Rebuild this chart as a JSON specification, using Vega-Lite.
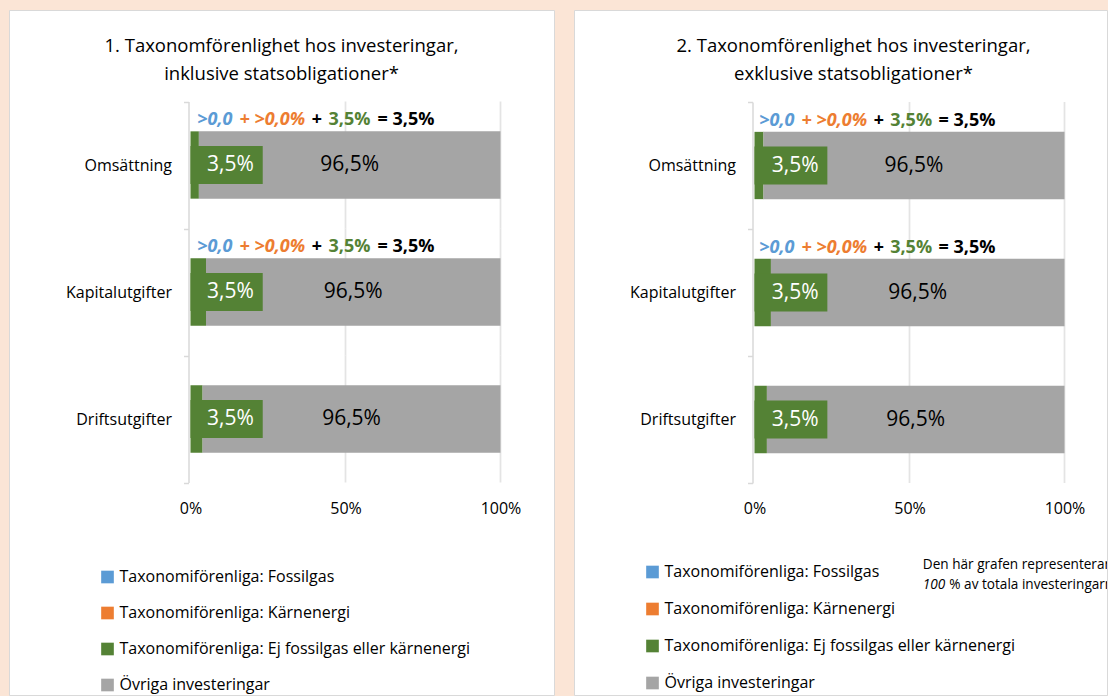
{
  "$schema": "https://vega.github.io/schema/vega-lite/v6.json",
  "background": "#FBE5D6",
  "padding": {"left": 8, "top": 1, "right": 0, "bottom": 0},
  "spacing": 18,
  "config": {"font": "Open Sans"},
  "resolve": {"scale": {"x": "independent", "y": "independent", "color": "independent"}, "legend": {"color": "independent"}},
  "datasets": {
    "bars": [
      {"panel": 1, "cat": "Omsättning", "series": "Taxonomiförenliga: Fossilgas", "rank": 1, "value": 0, "label": ""},
      {"panel": 1, "cat": "Omsättning", "series": "Taxonomiförenliga: Kärnenergi", "rank": 2, "value": 0, "label": ""},
      {"panel": 1, "cat": "Omsättning", "series": "Taxonomiförenliga: Ej fossilgas eller kärnenergi", "rank": 3, "value": 2.7, "label": "3,5%"},
      {"panel": 1, "cat": "Omsättning", "series": "Övriga investeringar", "rank": 4, "value": 97.3, "label": "96,5%"},
      {"panel": 1, "cat": "Kapitalutgifter", "series": "Taxonomiförenliga: Fossilgas", "rank": 1, "value": 0, "label": ""},
      {"panel": 1, "cat": "Kapitalutgifter", "series": "Taxonomiförenliga: Kärnenergi", "rank": 2, "value": 0, "label": ""},
      {"panel": 1, "cat": "Kapitalutgifter", "series": "Taxonomiförenliga: Ej fossilgas eller kärnenergi", "rank": 3, "value": 5.0, "label": "3,5%"},
      {"panel": 1, "cat": "Kapitalutgifter", "series": "Övriga investeringar", "rank": 4, "value": 95.0, "label": "96,5%"},
      {"panel": 1, "cat": "Driftsutgifter", "series": "Taxonomiförenliga: Fossilgas", "rank": 1, "value": 0, "label": ""},
      {"panel": 1, "cat": "Driftsutgifter", "series": "Taxonomiförenliga: Kärnenergi", "rank": 2, "value": 0, "label": ""},
      {"panel": 1, "cat": "Driftsutgifter", "series": "Taxonomiförenliga: Ej fossilgas eller kärnenergi", "rank": 3, "value": 3.9, "label": "3,5%"},
      {"panel": 1, "cat": "Driftsutgifter", "series": "Övriga investeringar", "rank": 4, "value": 96.1, "label": "96,5%"},
      {"panel": 2, "cat": "Omsättning", "series": "Taxonomiförenliga: Fossilgas", "rank": 1, "value": 0, "label": ""},
      {"panel": 2, "cat": "Omsättning", "series": "Taxonomiförenliga: Kärnenergi", "rank": 2, "value": 0, "label": ""},
      {"panel": 2, "cat": "Omsättning", "series": "Taxonomiförenliga: Ej fossilgas eller kärnenergi", "rank": 3, "value": 2.9, "label": "3,5%"},
      {"panel": 2, "cat": "Omsättning", "series": "Övriga investeringar", "rank": 4, "value": 97.1, "label": "96,5%"},
      {"panel": 2, "cat": "Kapitalutgifter", "series": "Taxonomiförenliga: Fossilgas", "rank": 1, "value": 0, "label": ""},
      {"panel": 2, "cat": "Kapitalutgifter", "series": "Taxonomiförenliga: Kärnenergi", "rank": 2, "value": 0, "label": ""},
      {"panel": 2, "cat": "Kapitalutgifter", "series": "Taxonomiförenliga: Ej fossilgas eller kärnenergi", "rank": 3, "value": 5.3, "label": "3,5%"},
      {"panel": 2, "cat": "Kapitalutgifter", "series": "Övriga investeringar", "rank": 4, "value": 94.7, "label": "96,5%"},
      {"panel": 2, "cat": "Driftsutgifter", "series": "Taxonomiförenliga: Fossilgas", "rank": 1, "value": 0, "label": ""},
      {"panel": 2, "cat": "Driftsutgifter", "series": "Taxonomiförenliga: Kärnenergi", "rank": 2, "value": 0, "label": ""},
      {"panel": 2, "cat": "Driftsutgifter", "series": "Taxonomiförenliga: Ej fossilgas eller kärnenergi", "rank": 3, "value": 4.0, "label": "3,5%"},
      {"panel": 2, "cat": "Driftsutgifter", "series": "Övriga investeringar", "rank": 4, "value": 96.0, "label": "96,5%"}
    ],
    "grid": [
      {"cat": "Omsättning", "x": 50}, {"cat": "Omsättning", "x": 100},
      {"cat": "Kapitalutgifter", "x": 50}, {"cat": "Kapitalutgifter", "x": 100},
      {"cat": "Driftsutgifter", "x": 50}, {"cat": "Driftsutgifter", "x": 100}
    ],
    "notes": [
      {"panel": 1, "cat": "Omsättning", "fossil": ">0,0", "nuclear": "+ >0,0%", "plus": "+", "green": "3,5%", "total": "= 3,5%"},
      {"panel": 1, "cat": "Kapitalutgifter", "fossil": ">0,0", "nuclear": "+ >0,0%", "plus": "+", "green": "3,5%", "total": "= 3,5%"},
      {"panel": 2, "cat": "Omsättning", "fossil": ">0,0", "nuclear": "+ >0,0%", "plus": "+", "green": "3,5%", "total": "= 3,5%"},
      {"panel": 2, "cat": "Kapitalutgifter", "fossil": ">0,0", "nuclear": "+ >0,0%", "plus": "+", "green": "3,5%", "total": "= 3,5%"}
    ],
    "footnote": [
      {"line1": "Den här grafen representerar", "pct": "100", "rest": "% av totala investeringarna."}
    ]
  },
  "hconcat": [
    {
      "width": 545,
      "height": 685,
      "view": {"fill": "#FFFFFF", "stroke": "#D9D9D9", "strokeWidth": 1},
      "title": {"text": ["1. Taxonomförenlighet hos investeringar,", "inklusive statsobligationer*"], "fontSize": 18.5, "fontWeight": "normal", "font": "Open Sans", "color": "#000000", "lineHeight": 28, "anchor": "middle", "frame": "group", "baseline": "bottom", "offset": -100},
      "layer": [
        {
          "data": {"name": "grid"},
          "mark": {"type": "tick", "orient": "vertical", "size": 127, "thickness": 1.75, "color": "#D9D9D9"},
          "encoding": {"x": {"field": "x", "type": "quantitative"}, "y": {"field": "cat", "type": "nominal"}}
        },
        {
          "data": {"name": "bars"},
          "transform": [{"filter": "datum.panel === 1"}],
          "mark": {"type": "bar", "height": {"band": 0.53}},
          "encoding": {
            "x": {"field": "value", "type": "quantitative", "stack": "zero",
                  "scale": {"domain": [-58.548, 117.258], "nice": false, "zero": false},
                  "axis": {"title": null, "values": [0, 50, 100], "labelExpr": "datum.value + '%'", "grid": false, "domain": false, "ticks": false, "tickSize": 0, "labelPadding": 18, "labelFontSize": 16, "labelFont": "Open Sans", "labelColor": "#000000", "offset": -212.5, "labelFlush": false}},
            "y": {"field": "cat", "type": "nominal",
                  "scale": {"domain": ["Omsättning", "Kapitalutgifter", "Driftsutgifter"], "range": [91.5, 472.5], "paddingInner": 0, "paddingOuter": 0},
                  "axis": {"title": null, "offset": -179.5, "domainColor": "#D9D9D9", "domainWidth": 1.5, "tickColor": "#D9D9D9", "tickWidth": 1.5, "tickSize": 5, "tickBand": "extent", "labelPadding": 12, "labelFontSize": 16, "labelFont": "Open Sans", "labelColor": "#000000", "grid": false}},
            "color": {"field": "series", "type": "nominal",
                      "scale": {"domain": ["Taxonomiförenliga: Fossilgas", "Taxonomiförenliga: Kärnenergi", "Taxonomiförenliga: Ej fossilgas eller kärnenergi", "Övriga investeringar"], "range": ["#5B9BD5", "#ED7D31", "#548235", "#A5A5A5"]},
                      "legend": {"title": null, "orient": "none", "legendX": 90.5, "legendY": 559, "direction": "vertical", "symbolType": "square", "symbolSize": 160, "symbolStrokeWidth": 0, "labelFontSize": 16, "labelFont": "Open Sans", "labelColor": "#000000", "labelOffset": 4, "rowPadding": 20, "padding": 0, "labelLimit": 600}},
            "order": {"field": "rank", "type": "quantitative"}
          }
        },
        {
          "data": {"name": "bars"},
          "transform": [{"filter": "datum.panel === 1 && datum.rank === 3"}],
          "mark": {"type": "bar", "color": "#548235", "height": {"band": 0.3}},
          "encoding": {"x": {"datum": 0}, "x2": {"datum": 23.3}, "y": {"field": "cat", "type": "nominal"}}
        },
        {
          "data": {"name": "bars"},
          "transform": [{"filter": "datum.panel === 1 && datum.rank === 3"}],
          "mark": {"type": "text", "color": "#FFFFFF", "fontSize": 21, "font": "Open Sans", "align": "center", "baseline": "middle"},
          "encoding": {"x": {"datum": 12.9}, "y": {"field": "cat", "type": "nominal"}, "text": {"field": "label"}}
        },
        {
          "data": {"name": "bars"},
          "transform": [{"filter": "datum.panel === 1"}],
          "mark": {"type": "text", "color": "#000000", "fontSize": 21, "font": "Open Sans", "align": "center", "baseline": "middle"},
          "encoding": {
            "x": {"field": "value", "type": "quantitative", "stack": "zero", "bandPosition": 0.5},
            "y": {"field": "cat", "type": "nominal"},
            "detail": {"field": "series"},
            "order": {"field": "rank", "type": "quantitative"},
            "text": {"condition": {"test": "datum.rank === 4", "field": "label"}, "value": ""}
          }
        },
        {
          "data": {"name": "notes"},
          "transform": [{"filter": "datum.panel === 1"}],
          "mark": {"type": "text", "align": "left", "baseline": "middle", "dx": 6.7, "dy": -45, "fontSize": 18, "fontWeight": "bold", "fontStyle": "italic", "font": "Open Sans", "color": "#5B9BD5"},
          "encoding": {"x": {"datum": 0}, "y": {"field": "cat", "type": "nominal"}, "text": {"field": "fossil"}}
        },
        {
          "data": {"name": "notes"},
          "transform": [{"filter": "datum.panel === 1"}],
          "mark": {"type": "text", "align": "left", "baseline": "middle", "dx": 49, "dy": -45, "fontSize": 18, "fontWeight": "bold", "fontStyle": "italic", "font": "Open Sans", "color": "#ED7D31"},
          "encoding": {"x": {"datum": 0}, "y": {"field": "cat", "type": "nominal"}, "text": {"field": "nuclear"}}
        },
        {
          "data": {"name": "notes"},
          "transform": [{"filter": "datum.panel === 1"}],
          "mark": {"type": "text", "align": "left", "baseline": "middle", "dx": 121, "dy": -45, "fontSize": 18, "fontWeight": "bold", "fontStyle": "italic", "font": "Open Sans", "color": "#000000"},
          "encoding": {"x": {"datum": 0}, "y": {"field": "cat", "type": "nominal"}, "text": {"field": "plus"}}
        },
        {
          "data": {"name": "notes"},
          "transform": [{"filter": "datum.panel === 1"}],
          "mark": {"type": "text", "align": "left", "baseline": "middle", "dx": 138, "dy": -45, "fontSize": 18, "fontWeight": "bold", "font": "Open Sans", "color": "#548235"},
          "encoding": {"x": {"datum": 0}, "y": {"field": "cat", "type": "nominal"}, "text": {"field": "green"}}
        },
        {
          "data": {"name": "notes"},
          "transform": [{"filter": "datum.panel === 1"}],
          "mark": {"type": "text", "align": "left", "baseline": "middle", "dx": 187, "dy": -45, "fontSize": 18, "fontWeight": "bold", "font": "Open Sans", "color": "#000000"},
          "encoding": {"x": {"datum": 0}, "y": {"field": "cat", "type": "nominal"}, "text": {"field": "total"}}
        }
      ]
    },
    {
      "width": 533,
      "height": 685,
      "view": {"fill": "#FFFFFF", "stroke": "#D9D9D9", "strokeWidth": 1},
      "title": {"text": ["2. Taxonomförenlighet hos investeringar,", "exklusive statsobligationer*"], "fontSize": 18.5, "fontWeight": "normal", "font": "Open Sans", "color": "#000000", "lineHeight": 28, "anchor": "middle", "frame": "group", "baseline": "bottom", "offset": -100, "dx": 13},
      "layer": [
        {
          "data": {"name": "grid"},
          "mark": {"type": "tick", "orient": "vertical", "size": 127, "thickness": 1.75, "color": "#D9D9D9"},
          "encoding": {"x": {"field": "x", "type": "quantitative"}, "y": {"field": "cat", "type": "nominal"}}
        },
        {
          "data": {"name": "bars"},
          "transform": [{"filter": "datum.panel === 2"}],
          "mark": {"type": "bar", "height": {"band": 0.53}},
          "encoding": {
            "x": {"field": "value", "type": "quantitative", "stack": "zero",
                  "scale": {"domain": [-58.226, 113.71], "nice": false, "zero": false},
                  "axis": {"title": null, "values": [0, 50, 100], "labelExpr": "datum.value + '%'", "grid": false, "domain": false, "ticks": false, "tickSize": 0, "labelPadding": 18, "labelFontSize": 16, "labelFont": "Open Sans", "labelColor": "#000000", "offset": -212.5, "labelFlush": false}},
            "y": {"field": "cat", "type": "nominal",
                  "scale": {"domain": ["Omsättning", "Kapitalutgifter", "Driftsutgifter"], "range": [92, 473], "paddingInner": 0, "paddingOuter": 0},
                  "axis": {"title": null, "offset": -178.5, "domainColor": "#D9D9D9", "domainWidth": 1.5, "tickColor": "#D9D9D9", "tickWidth": 1.5, "tickSize": 5, "tickBand": "extent", "labelPadding": 12, "labelFontSize": 16, "labelFont": "Open Sans", "labelColor": "#000000", "grid": false}},
            "color": {"field": "series", "type": "nominal",
                      "scale": {"domain": ["Taxonomiförenliga: Fossilgas", "Taxonomiförenliga: Kärnenergi", "Taxonomiförenliga: Ej fossilgas eller kärnenergi", "Övriga investeringar"], "range": ["#5B9BD5", "#ED7D31", "#548235", "#A5A5A5"]},
                      "legend": {"title": null, "orient": "none", "legendX": 70.5, "legendY": 554, "direction": "vertical", "symbolType": "square", "symbolSize": 160, "symbolStrokeWidth": 0, "labelFontSize": 16, "labelFont": "Open Sans", "labelColor": "#000000", "labelOffset": 4, "rowPadding": 21, "padding": 0, "labelLimit": 600}},
            "order": {"field": "rank", "type": "quantitative"}
          }
        },
        {
          "data": {"name": "bars"},
          "transform": [{"filter": "datum.panel === 2 && datum.rank === 3"}],
          "mark": {"type": "bar", "color": "#548235", "height": {"band": 0.3}},
          "encoding": {"x": {"datum": 0}, "x2": {"datum": 23.5}, "y": {"field": "cat", "type": "nominal"}}
        },
        {
          "data": {"name": "bars"},
          "transform": [{"filter": "datum.panel === 2 && datum.rank === 3"}],
          "mark": {"type": "text", "color": "#FFFFFF", "fontSize": 21, "font": "Open Sans", "align": "center", "baseline": "middle"},
          "encoding": {"x": {"datum": 13.1}, "y": {"field": "cat", "type": "nominal"}, "text": {"field": "label"}}
        },
        {
          "data": {"name": "bars"},
          "transform": [{"filter": "datum.panel === 2"}],
          "mark": {"type": "text", "color": "#000000", "fontSize": 21, "font": "Open Sans", "align": "center", "baseline": "middle"},
          "encoding": {
            "x": {"field": "value", "type": "quantitative", "stack": "zero", "bandPosition": 0.5},
            "y": {"field": "cat", "type": "nominal"},
            "detail": {"field": "series"},
            "order": {"field": "rank", "type": "quantitative"},
            "text": {"condition": {"test": "datum.rank === 4", "field": "label"}, "value": ""}
          }
        },
        {
          "data": {"name": "notes"},
          "transform": [{"filter": "datum.panel === 2"}],
          "mark": {"type": "text", "align": "left", "baseline": "middle", "dx": 4.7, "dy": -45, "fontSize": 18, "fontWeight": "bold", "fontStyle": "italic", "font": "Open Sans", "color": "#5B9BD5"},
          "encoding": {"x": {"datum": 0}, "y": {"field": "cat", "type": "nominal"}, "text": {"field": "fossil"}}
        },
        {
          "data": {"name": "notes"},
          "transform": [{"filter": "datum.panel === 2"}],
          "mark": {"type": "text", "align": "left", "baseline": "middle", "dx": 47, "dy": -45, "fontSize": 18, "fontWeight": "bold", "fontStyle": "italic", "font": "Open Sans", "color": "#ED7D31"},
          "encoding": {"x": {"datum": 0}, "y": {"field": "cat", "type": "nominal"}, "text": {"field": "nuclear"}}
        },
        {
          "data": {"name": "notes"},
          "transform": [{"filter": "datum.panel === 2"}],
          "mark": {"type": "text", "align": "left", "baseline": "middle", "dx": 119, "dy": -45, "fontSize": 18, "fontWeight": "bold", "fontStyle": "italic", "font": "Open Sans", "color": "#000000"},
          "encoding": {"x": {"datum": 0}, "y": {"field": "cat", "type": "nominal"}, "text": {"field": "plus"}}
        },
        {
          "data": {"name": "notes"},
          "transform": [{"filter": "datum.panel === 2"}],
          "mark": {"type": "text", "align": "left", "baseline": "middle", "dx": 135.7, "dy": -45, "fontSize": 18, "fontWeight": "bold", "font": "Open Sans", "color": "#548235"},
          "encoding": {"x": {"datum": 0}, "y": {"field": "cat", "type": "nominal"}, "text": {"field": "green"}}
        },
        {
          "data": {"name": "notes"},
          "transform": [{"filter": "datum.panel === 2"}],
          "mark": {"type": "text", "align": "left", "baseline": "middle", "dx": 184, "dy": -45, "fontSize": 18, "fontWeight": "bold", "font": "Open Sans", "color": "#000000"},
          "encoding": {"x": {"datum": 0}, "y": {"field": "cat", "type": "nominal"}, "text": {"field": "total"}}
        },
        {
          "data": {"name": "footnote"},
          "mark": {"type": "text", "align": "left", "baseline": "middle", "dy": 145.5, "fontSize": 13.6, "font": "Open Sans", "color": "#000000", "clip": true},
          "encoding": {"x": {"datum": 54.3}, "y": {"datum": "Driftsutgifter", "type": "nominal"}, "text": {"field": "line1"}}
        },
        {
          "data": {"name": "footnote"},
          "mark": {"type": "text", "align": "left", "baseline": "middle", "dy": 165.5, "fontSize": 13.6, "fontStyle": "italic", "font": "Open Sans", "color": "#000000", "clip": true},
          "encoding": {"x": {"datum": 54.3}, "y": {"datum": "Driftsutgifter", "type": "nominal"}, "text": {"field": "pct"}}
        },
        {
          "data": {"name": "footnote"},
          "mark": {"type": "text", "align": "left", "baseline": "middle", "dx": 26.5, "dy": 165.5, "fontSize": 13.6, "font": "Open Sans", "color": "#000000", "clip": true},
          "encoding": {"x": {"datum": 54.3}, "y": {"datum": "Driftsutgifter", "type": "nominal"}, "text": {"field": "rest"}}
        }
      ]
    }
  ]
}
